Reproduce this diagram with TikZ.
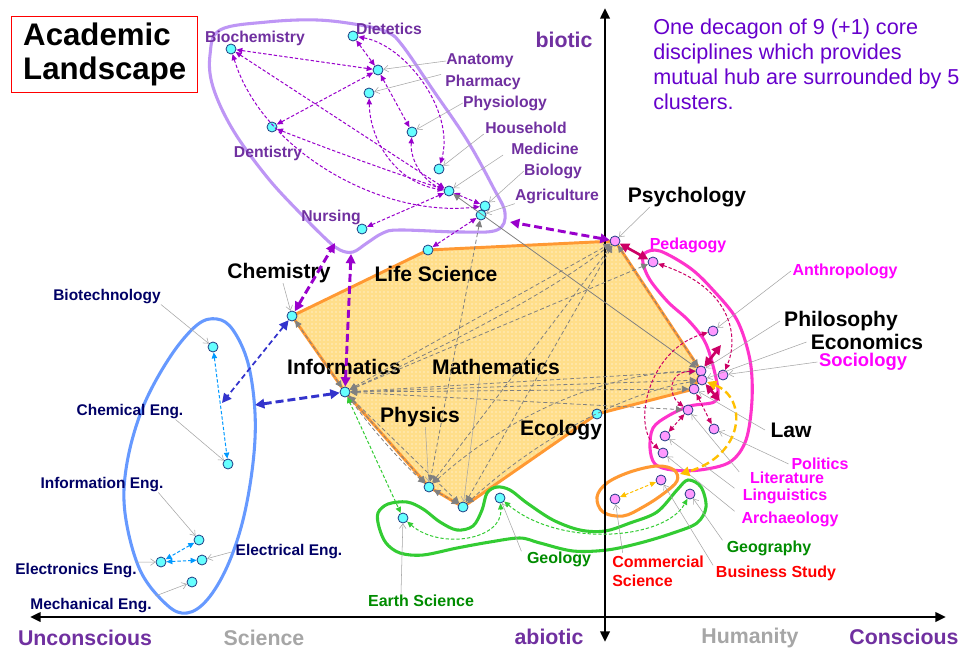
\documentclass[tikz,border=0pt]{standalone}
\usepackage{fontspec}
\setmainfont{Liberation Sans}
\usetikzlibrary{arrows.meta,patterns}
\pgfdeclarelayer{bg}
\pgfsetlayers{bg,main}

\definecolor{labpurple}{RGB}{112,48,160}
\definecolor{arrpurple}{RGB}{153,0,204}
\definecolor{lilac}{RGB}{190,150,245}
\definecolor{dotcyan}{RGB}{102,255,255}
\definecolor{dotpink}{RGB}{255,153,255}
\definecolor{dotedge}{RGB}{31,60,130}
\definecolor{magentalab}{RGB}{255,0,255}
\definecolor{magline}{RGB}{255,51,204}
\definecolor{crimson}{RGB}{204,0,102}
\definecolor{greenlab}{RGB}{0,140,0}
\definecolor{greenline}{RGB}{51,204,51}
\definecolor{navylab}{RGB}{0,0,102}
\definecolor{blueline}{RGB}{102,153,255}
\definecolor{skyarrow}{RGB}{0,153,255}
\definecolor{deepblue}{RGB}{51,51,204}
\definecolor{orangeline}{RGB}{255,153,51}
\definecolor{ambertone}{RGB}{255,192,0}
\definecolor{corefill}{RGB}{255,222,138}
\definecolor{notecolor}{RGB}{102,0,204}
\definecolor{leadgray}{RGB}{165,165,165}
\definecolor{linkgray}{RGB}{128,128,128}
\definecolor{axisgray}{RGB}{166,166,166}

\tikzset{
  dot/.style={circle,draw=dotedge,line width=0.6pt,minimum size=7.5pt,inner sep=0pt},
  cdot/.style={dot,fill=dotcyan},
  pdot/.style={dot,fill=dotpink},
  lab/.style={inner sep=0pt,font=\bfseries\fontsize{12}{14}\selectfont},
  plab/.style={lab,text=labpurple,font=\bfseries\fontsize{11.8}{14}\selectfont},
  nlab/.style={lab,text=navylab,font=\bfseries\fontsize{11.6}{14}\selectfont},
  mlab/.style={lab,text=magentalab},
  glab/.style={lab,text=greenlab},
  rlab/.style={lab,text=red},
  corelab/.style={inner sep=0pt,font=\bfseries\fontsize{15.8}{18}\selectfont},
  axlab/.style={inner sep=0pt,font=\bfseries\fontsize{16}{18}\selectfont},
  leader/.style={draw=leadgray,line width=0.4pt,-{Straight Barb[length=3.5pt,width=5pt]}},
  smalltip/.tip={Triangle[length=4.5pt,width=4pt]},
  bigtip/.tip={Triangle[length=7pt,width=7pt]},
  link/.style={line width=0.75pt,dash pattern=on 2.5pt off 1.5pt,smalltip-smalltip},
  biglink/.style={line width=2.2pt,dash pattern=on 6pt off 3pt,bigtip-bigtip},
  glink/.style={draw=linkgray,line width=0.6pt,dash pattern=on 3pt off 2pt,
    {Triangle[length=5pt,width=5pt]}-{Triangle[length=5pt,width=5pt]}},
  outline/.style={line width=2.3pt},
}

\begin{document}
\begin{tikzpicture}[x=0.75pt,y=-0.75pt]
\useasboundingbox (0,0) rectangle (962,652);

% ---------- axes ----------
\coordinate (xl) at (30,617);
\coordinate (xr) at (946,617);
\coordinate (yt) at (605,8);
\coordinate (yb) at (605,642);
\draw[line width=1.9pt,{Triangle[length=8pt,width=7pt]}-{Triangle[length=8pt,width=7pt]}] (xl) -- (xr);
\draw[line width=1.9pt,{Triangle[length=8pt,width=7pt]}-{Triangle[length=8pt,width=7pt]}] (yb) -- (yt);

\node[axlab,text=labpurple] (biotic) at (564,40) {biotic};
\node[axlab,text=labpurple] (uncons) at (85,638) {Unconscious};
\node[axlab,text=axisgray] (science) at (264,638) {Science};
\node[axlab,text=labpurple] (abiotic) at (549,637) {abiotic};
\node[axlab,text=axisgray] (humanity) at (750,638) {Humanity};
\node[axlab,text=labpurple] (cons) at (904,637) {Conscious};

% ---------- title and note ----------
\node[draw=red,line width=1.1pt,anchor=north west,minimum width=139.5pt,minimum height=57pt,
      align=left,inner xsep=8pt,font=\bfseries\fontsize{23.4}{25.5}\selectfont] (title) at (11,16)
      {Academic\\Landscape};
\node[anchor=north west,align=left,inner sep=0pt,text=notecolor,
      font=\fontsize{16.2}{18.7}\selectfont] (note) at (653,19)
      {One decagon of 9 (+1) core\\disciplines which provides\\mutual hub are surrounded by 5\\clusters.};

% ---------- dots: life sciences cluster ----------
\node[cdot] (biochem) at (231,49) {};
\node[cdot] (dietetics) at (353,36) {};
\node[cdot] (anatomy) at (378,70) {};
\node[cdot] (pharmacy) at (369,93) {};
\node[cdot] (physiology) at (412,132) {};
\node[cdot] (dentistry) at (272,127) {};
\node[cdot] (household) at (439,169) {};
\node[cdot] (medicine) at (449,191) {};
\node[cdot] (biology) at (485,206) {};
\node[cdot] (agriculture) at (481,215) {};
\node[cdot] (nursing) at (362,229) {};

% ---------- dots: core decagon ----------
\node[cdot] (lifesci) at (428,250) {};
\node[cdot] (chemistry) at (292,316) {};
\node[cdot] (informatics) at (345,392) {};
\node[cdot] (physics) at (429,487) {};
\node[cdot] (maths) at (463,507) {};
\node[cdot] (ecology) at (597,414) {};
\node[pdot] (psychology) at (615,241) {};
\node[pdot] (philosophy) at (701,371) {};
\node[pdot] (economics) at (702,380) {};
\node[pdot] (law) at (694,389) {};

% ---------- dots: humanities cluster ----------
\node[pdot] (pedagogy) at (653,262) {};
\node[pdot] (anthropology) at (713,331) {};
\node[pdot] (sociology) at (723,375) {};
\node[pdot] (literature) at (688,410) {};
\node[pdot] (politics) at (714,429) {};
\node[pdot] (linguistics) at (665,436) {};
\node[pdot] (archaeology) at (663,453) {};
\node[pdot] (commercial) at (615,499) {};
\node[pdot] (business) at (661,480) {};
\node[pdot] (geography) at (690,494) {};

% ---------- dots: earth sciences ----------
\node[cdot] (earthsci) at (403,518) {};
\node[cdot] (geology) at (500,498) {};

% ---------- dots: engineering ----------
\node[cdot] (biotech) at (213,347) {};
\node[cdot] (chemeng) at (228,464) {};
\node[cdot] (infoeng) at (199,540) {};
\node[cdot] (electrical) at (202,560) {};
\node[cdot] (electronics) at (161,562) {};
\node[cdot] (mechanical) at (192,582) {};

% ---------- background: decagon and cluster outlines ----------
\begin{pgfonlayer}{bg}
\fill[white] (0,0) rectangle (962,652);
\path[fill=corefill]
  (chemistry.center) -- (lifesci.center) -- (psychology.center) -- (philosophy.center)
  -- (law.center) -- (ecology.center) -- (maths.center) -- (physics.center)
  -- (informatics.center) -- cycle;
\path[pattern=dots,pattern color=white]
  (chemistry.center) -- (lifesci.center) -- (psychology.center) -- (philosophy.center)
  -- (law.center) -- (ecology.center) -- (maths.center) -- (physics.center)
  -- (informatics.center) -- cycle;
\draw[draw=orangeline,line width=2.2pt,line join=round]
  (chemistry.center) -- (lifesci.center) -- (psychology.center) -- (philosophy.center)
  -- (law.center) -- (ecology.center) -- (maths.center) -- (physics.center)
  -- (informatics.center) -- cycle;
\draw[outline,draw=lilac] plot[smooth cycle,tension=0.6] coordinates {
  (210,55) (220,30) (267,22) (317,20) (360,25) (387,32) (402,45) (433,90) (467,140)
  (493,187) (505,213) (497,230) (460,232) (400,230) (383,233) (367,243) (353,252)
  (340,250) (327,240) (300,213) (267,177) (233,130) (213,87)};
\draw[outline,draw=magline] plot[smooth cycle,tension=0.55] coordinates {
  (645,253) (660,251) (690,268) (713,290) (737,320) (750,360) (752,400) (746,440)
  (730,462) (700,470) (672,470) (655,464) (650,448) (653,428) (668,416) (690,406)
  (714,402) (718,390) (712,362) (704,340) (688,320) (668,302) (650,280) (643,263)};
\draw[outline,draw=orangeline] plot[smooth cycle,tension=0.6] coordinates {
  (597,497) (607,483) (630,472) (657,466) (674,470) (677,481) (663,494) (643,507)
  (623,516) (603,512)};
\draw[outline,draw=greenline] plot[smooth cycle,tension=0.55] coordinates {
  (378,513) (388,504) (407,502) (423,509) (440,522) (457,530) (473,526) (482,510)
  (487,493) (497,487) (510,490) (527,503) (553,520) (580,530) (605,531) (630,523)
  (657,512) (677,490) (688,480) (701,487) (706,507) (697,523) (673,533) (640,543)
  (607,550) (573,551) (540,543) (520,538) (490,542) (457,548) (423,555) (400,553)
  (386,543) (379,527)};
\draw[outline,draw=blueline] plot[smooth cycle,tension=0.6] coordinates {
  (217,319) (233,330) (248,363) (255,413) (253,463) (243,520) (227,567) (207,600)
  (187,613) (167,605) (140,570) (125,513) (127,463) (143,407) (170,357) (197,325)};
\end{pgfonlayer}

% ---------- labels: life sciences ----------
\node[plab] (l-biochem) at (255,38) {Biochemistry};
\node[plab] (l-dietetics) at (389,29) {Dietetics};
\node[plab] (l-anatomy) at (480,61) {Anatomy};
\node[plab] (l-pharmacy) at (483,82) {Pharmacy};
\node[plab] (l-physiology) at (505,103) {Physiology};
\node[plab] (l-household) at (526,128) {Household};
\node[plab] (l-medicine) at (545,149) {Medicine};
\node[plab] (l-biology) at (553,171) {Biology};
\node[plab] (l-agriculture) at (557,196) {Agriculture};
\node[plab] (l-dentistry) at (268,153) {Dentistry};
\node[plab] (l-nursing) at (331,217) {Nursing};

\draw[leader] (l-anatomy.west) -- (anatomy);
\draw[leader] ([xshift=-3pt]l-pharmacy.north west) -- (pharmacy);
\draw[leader] (l-physiology.west) -- (physiology);
\draw[leader] ([xshift=-1pt]l-household.south west) -- (household);
\draw[leader] ([xshift=-6pt]l-medicine.south west) -- (medicine);
\draw[leader] (l-biology.west) -- (biology);
\draw[leader] (l-agriculture.south west) -- (agriculture);

% ---------- labels: core ----------
\node[corelab] (l-chemistry) at (279,273) {Chemistry};
\node[corelab] (l-lifesci) at (436,274) {Life Science};
\node[corelab] (l-psychology) at (687,197) {Psychology};
\node[corelab] (l-informatics) at (344,367) {Informatics};
\node[corelab] (l-maths) at (496,367) {Mathematics};
\node[corelab] (l-physics) at (420,417) {Physics};
\node[corelab] (l-ecology) at (561,430) {Ecology};
\node[corelab] (l-philosophy) at (841,321) {Philosophy};
\node[corelab] (l-economics) at (867,342) {Economics};
\node[corelab,text=magentalab,font=\bfseries\fontsize{13.8}{16}\selectfont] (l-sociology) at (863,362) {Sociology};
\node[corelab] (l-law) at (791,430) {Law};

\draw[leader] ([xshift=3pt]l-chemistry.south) -- (chemistry);
\draw[leader] ([xshift=-28pt]l-psychology.south) -- (psychology);
\draw[leader] ([xshift=-12pt]l-maths.south) -- (maths);
\draw[leader] ([xshift=4pt]l-physics.south) -- (physics);
\draw[leader] ([xshift=-3pt]l-philosophy.west) -- (philosophy);
\draw[leader] ([xshift=-3pt]l-economics.west) -- (economics);
\draw[leader] ([xshift=-1pt]l-sociology.west) -- (sociology);
\draw[leader] ([xshift=-4pt]l-law.west) -- (law);

% ---------- labels: humanities ----------
\node[mlab] (l-pedagogy) at (688,245) {Pedagogy};
\node[mlab] (l-anthropology) at (845,271) {Anthropology};
\node[mlab] (l-politics) at (820,464) {Politics};
\node[mlab] (l-literature) at (787,478) {Literature};
\node[mlab] (l-linguistics) at (785,496) {Linguistics};
\node[mlab] (l-archaeology) at (790,519) {Archaeology};
\node[glab] (l-geography) at (769,548) {Geography};
\node[rlab] (l-business) at (776,573) {Business Study};
\node[rlab,align=left,anchor=west] (l-commercial) at (612,571) {Commercial\\Science};

\draw[leader] ([xshift=-1pt]l-anthropology.west) -- (anthropology);
\draw[leader] ([xshift=-2pt]l-politics.west) -- (politics);
\draw[leader] ([xshift=-8pt]l-literature.north west) -- (literature);
\draw[leader] ([xshift=-6pt]l-linguistics.north west) -- (linguistics);
\draw[leader] ([xshift=-5pt]l-archaeology.north west) -- (archaeology);
\draw[leader] ([xshift=-3pt]l-geography.north west) -- (geography);
\draw[leader] ([xshift=-2pt]l-business.north west) -- (business);
\draw[leader] ([xshift=8pt,yshift=2pt]l-commercial.north west) -- (commercial);

% ---------- labels: earth sciences ----------
\node[glab] (l-earthsci) at (421,601) {Earth Science};
\node[glab] (l-geology) at (559,559) {Geology};
\draw[leader] ([xshift=-15pt,yshift=1pt]l-earthsci.north) -- (earthsci);
\draw[leader] ([xshift=-4pt]l-geology.north west) -- (geology);

% ---------- labels: engineering ----------
\node[nlab] (l-biotech) at (107,297) {Biotechnology};
\node[nlab] (l-chemeng) at (130,412) {Chemical Eng.};
\node[nlab] (l-infoeng) at (102,485) {Information Eng.};
\node[nlab] (l-electrical) at (289,552) {Electrical Eng.};
\node[nlab] (l-electronics) at (76,571) {Electronics Eng.};
\node[nlab] (l-mechanical) at (91,606) {Mechanical Eng.};

\draw[leader] (l-biotech.south east) -- (biotech);
\draw[leader] ([xshift=-6pt]l-chemeng.south east) -- (chemeng);
\draw[leader] ([xshift=-4pt]l-infoeng.south east) -- (infoeng);
\draw[leader] ([xshift=-3pt]l-electrical.west) -- (electrical);
\draw[leader] ([xshift=-1pt,yshift=1pt]l-electronics.north east) -- (electronics);
\draw[leader] ([xshift=3pt,yshift=2pt]l-mechanical.north east) -- (mechanical);

% ---------- links inside the life sciences cluster ----------
\begin{scope}[draw=arrpurple]
\draw[link] (biochem) -- (anatomy);
\draw[link] (biochem) -- (medicine);
\draw[link] (biochem) .. controls (262,150) and (380,218) .. (biology);
\draw[link] (dentistry) -- (anatomy);
\draw[link] (dentistry) .. controls (330,150) and (400,175) .. (medicine);
\draw[link] (dietetics) -- (anatomy);
\draw[link] (dietetics) .. controls (405,45) and (455,110) .. (household);
\draw[link] (anatomy) -- (physiology);
\draw[link] (pharmacy) .. controls (370,140) and (395,182) .. (medicine);
\draw[link] (physiology) .. controls (410,162) and (425,182) .. (medicine);
\draw[link] (medicine) -- (biology);
\draw[link] (medicine) -- (nursing);
\draw[link] (agriculture) -- (lifesci);
% links from the cluster to the core
\coordinate (pc1) at (510,222);
\coordinate (pc2) at (335,243);
\coordinate (pc3) at (351,254);
\draw[biglink] (psychology) -- (pc1);
\draw[biglink] (chemistry) -- (pc2);
\draw[biglink] (informatics) -- (pc3);
\end{scope}

% ---------- links in the core ----------
\draw[glink] (informatics) -- (psychology);
\draw[glink] (informatics) .. controls (470,335) and (560,285) .. (psychology);
\draw[glink] (informatics) -- (pedagogy);
\draw[glink] (informatics) -- (philosophy);
\draw[glink] (informatics) -- (economics);
\draw[glink] (informatics) -- (law);
\draw[glink] (informatics) -- (literature);
\draw[glink] (informatics) -- (physics);
\draw[glink] (informatics) .. controls (380,440) and (410,470) .. (physics);
\draw[glink] (informatics) -- (maths);
\draw[glink] (informatics) -- (chemistry);
\draw[glink] (physics) -- (maths);
\draw[glink] (physics) -- (psychology);
\draw[glink] (maths) -- (psychology);
\draw[glink] (physics) .. controls (520,405) and (620,372) .. (philosophy);
\draw[glink] (maths) .. controls (545,432) and (630,392) .. (economics);
\draw[glink] (agriculture) -- (physics);
\draw[glink] (psychology) -- (philosophy);
\draw[draw=linkgray,line width=0.6pt,{Triangle[length=5pt,width=5pt]}-{Triangle[length=5pt,width=5pt]}] (medicine) -- (philosophy);

% ---------- humanities links ----------
\begin{scope}[draw=crimson]
\draw[line width=2pt,bigtip-bigtip] (psychology) -- (pedagogy);
\coordinate (mc1) at (721,345);
\coordinate (mc2) at (720,401);
\draw[line width=2pt,bigtip-bigtip] (philosophy) -- (mc1);
\draw[line width=2pt,bigtip-bigtip] (economics) -- (mc2);
\draw[link] (pedagogy) .. controls (735,290) and (738,340) .. (sociology);
\draw[link] (anthropology) .. controls (648,350) and (632,425) .. (archaeology);
\draw[link] (philosophy) .. controls (668,372) and (668,395) .. (literature);
\draw[link] (literature) -- (linguistics);
\draw[link] (law) -- (politics);
\end{scope}

\coordinate (oc1) at (680,474);
\draw[biglink,draw=ambertone,line width=1.8pt] (economics) .. controls (748,398) and (745,455) .. (oc1);
\draw[link,draw=ambertone] (commercial) -- (business);

% ---------- earth science links ----------
\begin{scope}[draw=greenline]
\draw[link] (informatics) -- (earthsci);
\draw[link] (earthsci) .. controls (440,550) and (503,540) .. (geology);
\draw[link] (geology) .. controls (560,548) and (665,540) .. (geography);
\end{scope}

% ---------- engineering links ----------
\begin{scope}[draw=skyarrow]
\draw[link] (biotech) -- (chemeng);
\draw[link] (infoeng) -- (electronics);
\draw[link] (electronics) -- (electrical);
\end{scope}
\coordinate (bc1) at (222,403);
\coordinate (bc2) at (255,405);
\draw[biglink,draw=deepblue,line width=1.3pt,dash pattern=on 4pt off 2.5pt] (chemistry) -- (bc1);
\draw[biglink,draw=deepblue] (informatics) -- (bc2);

\end{tikzpicture}
\end{document}
